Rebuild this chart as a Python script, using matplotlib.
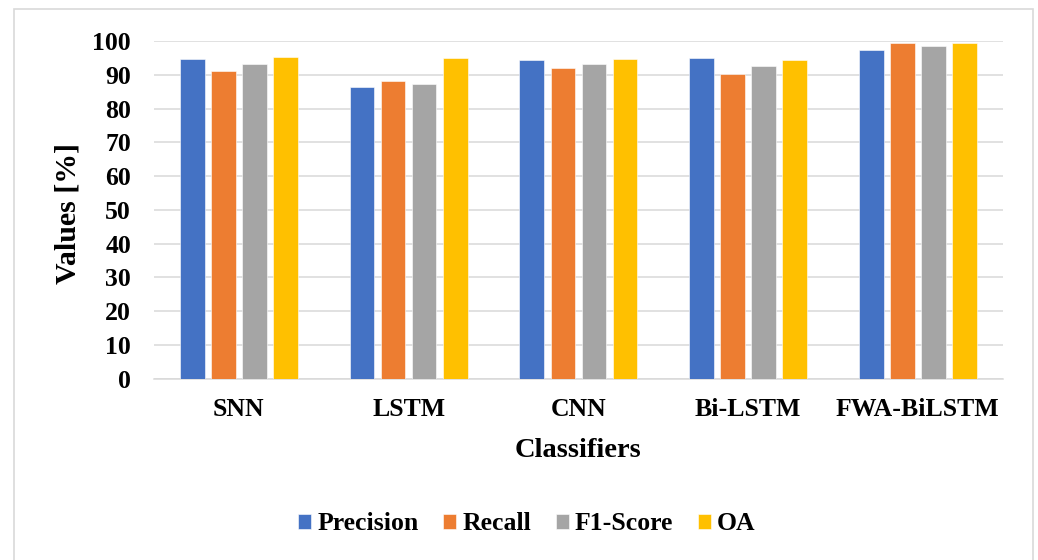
import matplotlib
matplotlib.use("Agg")
import matplotlib.pyplot as plt
from matplotlib.patches import Rectangle
import numpy as np

categories = ["SNN", "LSTM", "CNN", "Bi-LSTM", "FWA-BiLSTM"]
series_names = ["Precision", "Recall", "F1-Score", "OA"]
precision = [94.7, 86.3, 94.3, 95.0, 97.4]
recall = [91.2, 88.2, 92.0, 90.1, 99.4]
f1_score = [93.1, 87.2, 93.1, 92.5, 98.4]
oa = [95.2, 95.0, 94.6, 94.3, 99.4]
y_ticks = [0, 10, 20, 30, 40, 50, 60, 70, 80, 90, 100]

colors = ["#4472C4", "#ED7D31", "#A5A5A5", "#FFC000"]

plt.rcParams['font.family'] = ['Liberation Serif', 'DejaVu Serif']
plt.rcParams['font.weight'] = 'bold'
FS = 18.5

fig = plt.figure(figsize=(10.38, 5.6), dpi=100)
W, H = 1038, 560
left, right, top, bottom = 154, 1002.7, 41, 378.7
ax = fig.add_axes([left / W, 1 - bottom / H, (right - left) / W, (bottom - top) / H])

x = np.arange(len(categories))
pitch = 0.183
width = 0.145
all_series = [precision, recall, f1_score, oa]
for i, (name, vals, c) in enumerate(zip(series_names, all_series, colors)):
    ax.bar(x + (i - 1.5) * pitch, vals, width, color=c, label=name,
           edgecolor="white", linewidth=0.4, zorder=3)

ax.set_xlim(-0.5, len(categories) - 0.5)
ax.set_ylim(0, 100)
ax.set_yticks(y_ticks)
ax.set_yticklabels([str(t) for t in y_ticks], fontsize=FS, fontweight='bold')
ax.set_xticks(x)
ax.set_xticklabels(categories, fontsize=FS, fontweight='bold')
ax.tick_params(axis='y', length=0, pad=16.5)
ax.tick_params(axis='x', length=0, pad=14)
ax.grid(axis='y', color="#D9D9D9", linewidth=1.1, zorder=0)
ax.set_axisbelow(True)
for s in ["top", "right", "left"]:
    ax.spines[s].set_visible(False)
ax.spines["bottom"].set_color("#D9D9D9")
ax.spines["bottom"].set_linewidth(1.1)

ax.set_ylabel("Values [%]", fontsize=21.5, fontweight='bold', va='center')
ax.yaxis.set_label_coords((68 - left) / (right - left), (bottom - 213.5) / (bottom - top))
ax.set_xlabel("Classifiers", fontsize=20.5, fontweight='bold', va='center')
ax.xaxis.set_label_coords((578 - left) / (right - left), (bottom - 450) / (bottom - top))

leg = fig.legend(loc="center", bbox_to_anchor=(527 / W, 1 - 524 / H), ncol=4,
                 frameon=False, prop={'size': FS, 'weight': 'bold'},
                 handlelength=0.5, handleheight=0.5, handletextpad=0.25,
                 columnspacing=0.95)

fig.patches.append(Rectangle((14 / W, -0.05), (1033 - 14) / W, 1.05 - 9 / H,
                             transform=fig.transFigure, fill=False,
                             edgecolor="#D9D9D9", linewidth=1.2))

fig.savefig("out.png", dpi=100)
